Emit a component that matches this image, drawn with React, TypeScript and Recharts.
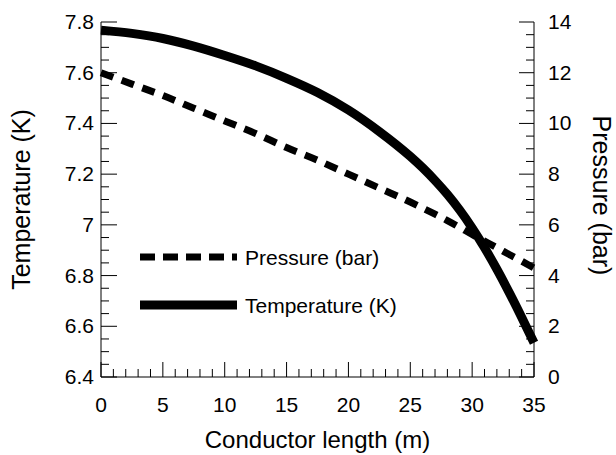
import React from "react";
import {
  ComposedChart,
  Line,
  XAxis,
  YAxis,
  Legend,
} from "recharts";

// conductor length (m)
const lengths = [0, 2.5, 5, 7.5, 10, 12.5, 15, 17.5, 20, 22.5, 25, 26, 27, 28, 29, 30, 31, 32, 33, 34, 35];
// temperature (K)
const temperature = [7.768, 7.755, 7.735, 7.705, 7.668, 7.627, 7.578, 7.522, 7.453, 7.368, 7.27, 7.225, 7.175, 7.12, 7.058, 6.988, 6.91, 6.825, 6.733, 6.636, 6.535];
// pressure (bar)
const pressure = [12.0, 11.55, 11.1, 10.6, 10.1, 9.6, 9.05, 8.55, 8.0, 7.45, 6.9, 6.66, 6.42, 6.17, 5.9, 5.62, 5.36, 5.1, 4.83, 4.57, 4.3];

const xTicks = Array.from({ length: 36 }, (_, i) => i);
const tempTicks = Array.from({ length: 29 }, (_, i) => Math.round((6.4 + i * 0.05) * 100) / 100);
const pressTicks = Array.from({ length: 29 }, (_, i) => i * 0.5);

const data = lengths.map((x, i) => ({ x, t: temperature[i], p: pressure[i] }));

const FONT = "'Liberation Sans', Arial, sans-serif";
const isMult = (v: number, step: number) => Math.abs(v / step - Math.round(v / step)) < 1e-6;

function BottomTick({ x, y, payload }: any) {
  const major = isMult(payload.value, 5);
  return (
    <g>
      <line x1={x} x2={x} y1={y} y2={y - (major ? 15 : 8)} stroke="#000" strokeWidth={1} />
      {major && (
        <text x={x} y={y + 35} textAnchor="middle" fontSize={21} fontFamily={FONT} fill="#000">
          {payload.value}
        </text>
      )}
    </g>
  );
}

function TopTick({ x, y, payload }: any) {
  const major = isMult(payload.value, 5);
  return <line x1={x} x2={x} y1={y} y2={y + (major ? 15 : 8)} stroke="#000" strokeWidth={1} />;
}

function LeftTick({ x, y, payload }: any) {
  const major = isMult(payload.value, 0.2);
  return (
    <g>
      <line x1={x} x2={x + (major ? 16 : 8)} y1={y} y2={y} stroke="#000" strokeWidth={1} />
      {major && (
        <text x={x - 7} y={y + 7} textAnchor="end" fontSize={21} fontFamily={FONT} fill="#000">
          {String(Number(payload.value.toFixed(1)))}
        </text>
      )}
    </g>
  );
}

function RightTick({ x, y, payload }: any) {
  const major = isMult(payload.value, 2);
  return (
    <g>
      <line x1={x} x2={x - (major ? 15 : 8)} y1={y} y2={y} stroke="#000" strokeWidth={1} />
      {major && (
        <text x={x + 14} y={y + 7} textAnchor="start" fontSize={21} fontFamily={FONT} fill="#000">
          {payload.value}
        </text>
      )}
    </g>
  );
}

function LeftTitle({ viewBox }: any) {
  const x = viewBox.x + 30;
  const y = viewBox.y + viewBox.height / 2;
  return (
    <text x={x} y={y} transform={`rotate(-90, ${x}, ${y})`} textAnchor="middle" fontSize={25} fontFamily={FONT} fill="#000">
      Temperature (K)
    </text>
  );
}

function RightTitle({ viewBox }: any) {
  const x = viewBox.x + 59;
  const y = viewBox.y + viewBox.height / 2 - 4;
  return (
    <text x={x} y={y} transform={`rotate(90, ${x}, ${y})`} textAnchor="middle" fontSize={25} fontFamily={FONT} fill="#000">
      Pressure (bar)
    </text>
  );
}

function LegendBox() {
  const rows = [
    { label: "Pressure (bar)", dash: "15 8", w: 7 },
    { label: "Temperature (K)", dash: undefined, w: 9 },
  ];
  return (
    <svg width={300} height={100} style={{ overflow: "visible" }}>
      {rows.map((r, i) => (
        <g key={r.label} transform={`translate(0, ${17 + i * 48})`}>
          <line x1={0} x2={97} y1={0} y2={0} stroke="#000" strokeWidth={r.w} strokeDasharray={r.dash} />
          <text x={105} y={7.5} fontSize={21} fontFamily={FONT} fill="#000">
            {r.label}
          </text>
        </g>
      ))}
    </svg>
  );
}

export default function App() {
  return (
    <div style={{ position: "absolute", left: 0, top: 0, width: 616, height: 455, background: "#fff", fontFamily: FONT }}>
      <ComposedChart width={616} height={455} data={data} margin={{ top: 22, right: 0, bottom: 0, left: 0 }}>
        <XAxis
          xAxisId="b"
          dataKey="x"
          type="number"
          domain={[0, 35]}
          ticks={xTicks}
          interval={0}
          height={78}
          tickLine={false}
          tickSize={0}
          tickMargin={0}
          tick={<BottomTick />}
          axisLine={{ stroke: "#000" }}
          label={{ value: "Conductor length (m)", position: "insideBottom", offset: 7, fontSize: 24, fill: "#000", fontFamily: FONT }}
        />
        <XAxis
          xAxisId="t"
          orientation="top"
          dataKey="x"
          type="number"
          domain={[0, 35]}
          ticks={xTicks}
          interval={0}
          height={0}
          tickLine={false}
          tickSize={0}
          tickMargin={0}
          tick={<TopTick />}
          axisLine={{ stroke: "#000" }}
        />
        <YAxis
          yAxisId="left"
          type="number"
          domain={[6.4, 7.8]}
          ticks={tempTicks}
          interval={0}
          width={101}
          tickLine={false}
          tickSize={0}
          tickMargin={0}
          tick={<LeftTick />}
          axisLine={{ stroke: "#000" }}
          allowDataOverflow
          label={{ content: (p: any) => <LeftTitle {...p} /> }}
        />
        <YAxis
          yAxisId="right"
          orientation="right"
          type="number"
          domain={[0, 14]}
          ticks={pressTicks}
          interval={0}
          width={82}
          tickLine={false}
          tickSize={0}
          tickMargin={0}
          tick={<RightTick />}
          axisLine={{ stroke: "#000" }}
          allowDataOverflow
          label={{ content: (p: any) => <RightTitle {...p} /> }}
        />
        <Legend
          layout="vertical"
          align="center"
          verticalAlign="middle"
          content={() => <LegendBox />}
          wrapperStyle={{ left: 140, top: 240, width: 300, height: 100 }}
        />
        <Line
          xAxisId="b"
          yAxisId="right"
          type="monotone"
          dataKey="p"
          stroke="#000"
          strokeWidth={7}
          strokeDasharray="13 9"
          dot={false}
          isAnimationActive={false}
        />
        <Line
          xAxisId="b"
          yAxisId="left"
          type="monotone"
          dataKey="t"
          stroke="#000"
          strokeWidth={9}
          dot={false}
          isAnimationActive={false}
        />
      </ComposedChart>
    </div>
  );
}
